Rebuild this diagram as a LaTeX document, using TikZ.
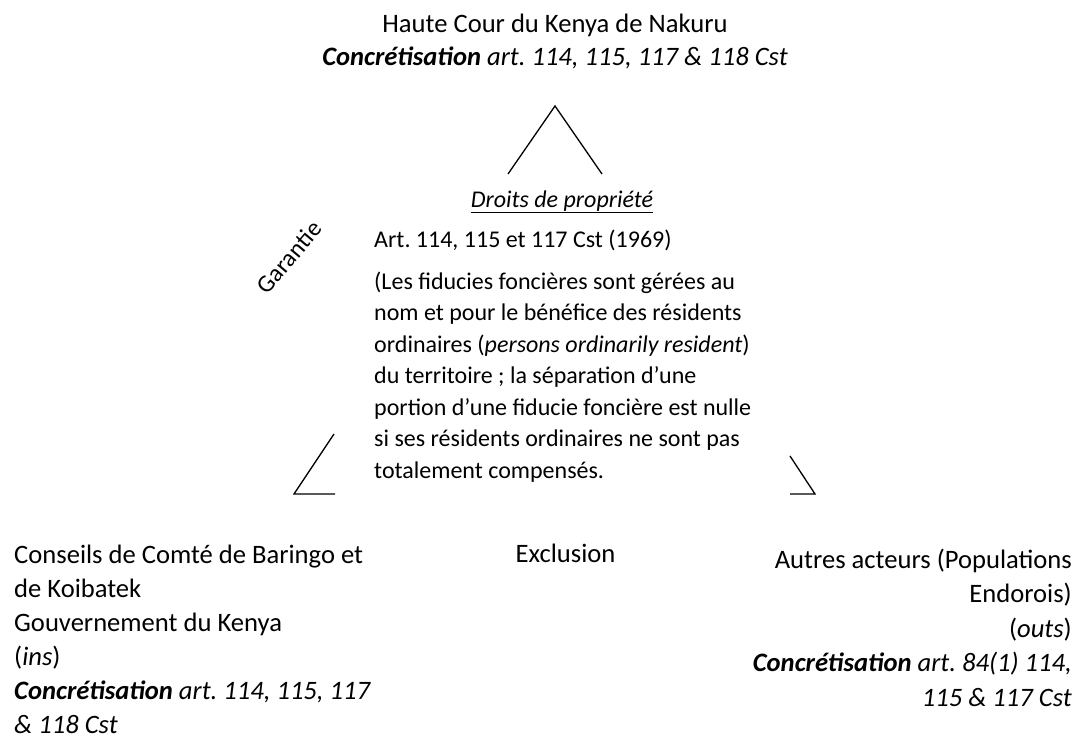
\documentclass[tikz,border=0pt]{standalone}
\usepackage{fontspec}
\setmainfont{Carlito}
\frenchspacing
\begin{document}
\begin{tikzpicture}[x=1pt,y=-1pt,
  base/.style={inner sep=0pt},
  titletxt/.style={base, font=\fontsize{26.6}{33}\selectfont},
  bodytxt/.style={base, font=\fontsize{24}{31.5}\selectfont},
  blocktxt/.style={base, font=\fontsize{26.6}{34}\selectfont},
  edge/.style={line width=1.3pt, line join=miter}]
  \useasboundingbox (0,0) rectangle (1080,738);

  % apex: the court (multi-line nodes sit on their last baseline)
  \node[titletxt, align=center, anchor=base] (court) at (555,66)
    {Haute Cour du Kenya de Nakuru\\
     \textbf{\textit{Concrétisation}} \textit{art. 114, 115, 117 \& 118 Cst}};

  % centre: property rights
  \node[bodytxt, anchor=base] (droits) at (562,208) {\textit{Droits de propriété}};
  \draw[line width=1.2pt] ([yshift=-4.5pt]droits.base west) -- ([yshift=-4.5pt]droits.base east);
  \node[bodytxt, anchor=base west] (art) at (374,248) {Art. 114, 115 et 117 Cst (1969)};
  \node[bodytxt, align=left, anchor=base west] (fiducie) at (374,478)
    {(Les fiducies foncières sont gérées au\\
     nom et pour le bénéfice des résidents\\
     ordinaires (\textit{persons ordinarily resident})\\
     du territoire ; la séparation d’une\\
     portion d’une fiducie foncière est nulle\\
     si ses résidents ordinaires ne sont pas\\
     totalement compensés.};

  % bottom corners: the actors
  \node[blocktxt, align=left, anchor=base west] (ins) at (14,733)
    {Conseils de Comté de Baringo et\\
     de Koibatek\\
     Gouvernement du Kenya\\
     (\textit{ins})\\
     \textbf{\textit{Concrétisation}} \textit{art. 114, 115, 117}\\
     \textit{\& 118 Cst}};
  \node[blocktxt, font=\fontsize{26.6}{34.5}\selectfont, align=right, anchor=base east] (outs) at (1072,706)
    {Autres acteurs (Populations\\
     Endorois)\\
     (\textit{outs})\\
     \textbf{\textit{Concrétisation}} \textit{art. 84(1) 114,}\\
     \textit{115 \& 117 Cst}};

  % side labels
  \node[bodytxt, font=\fontsize{24.5}{30}\selectfont, rotate=50] (garantie) at (289,257) {Garantie};
  \node[blocktxt, anchor=base] (exclusion) at (565.5,562) {Exclusion};

  % triangle corners
  \coordinate (topL) at (508,174);
  \coordinate (topA) at (555,106);
  \coordinate (topR) at (602,174);
  \draw[edge] (topL) -- (topA) -- (topR);

  \coordinate (leftU) at (334,434);
  \coordinate (leftC) at (294,494);
  \coordinate (leftE) at (335,494);
  \draw[edge] (leftU) -- (leftC) -- (leftE);

  \coordinate (rightU) at (790,456);
  \coordinate (rightC) at (815,494);
  \coordinate (rightE) at (790,494);
  \draw[edge] (rightU) -- (rightC) -- (rightE);
\end{tikzpicture}
\end{document}
